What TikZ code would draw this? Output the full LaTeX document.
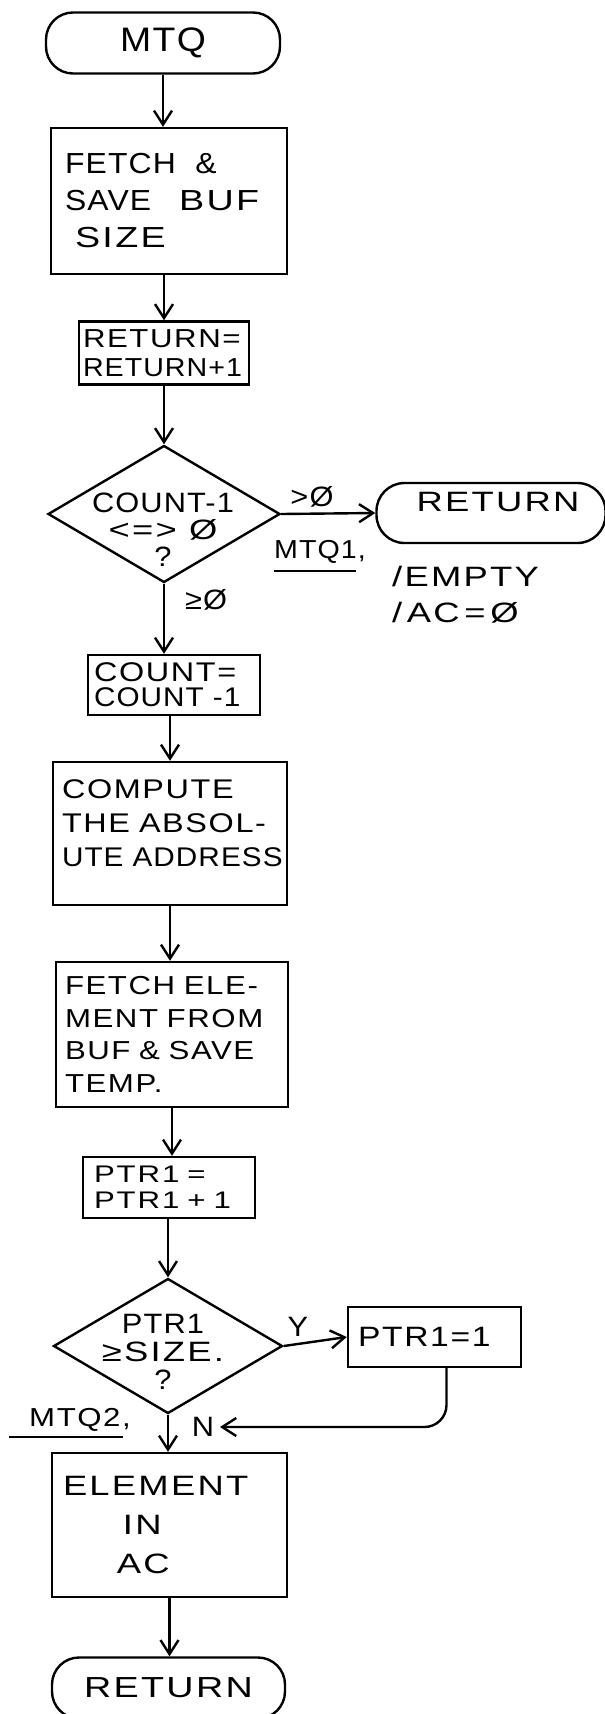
\documentclass[tikz,border=0pt]{standalone}
\usepackage{fontspec}
\setmainfont{Liberation Sans}
% three widths of the same hand-lettering face
\newfontfamily\hand[FakeStretch=1.1,LetterSpace=4]{Liberation Sans}
\newfontfamily\handmid[FakeStretch=1.2,LetterSpace=6]{Liberation Sans}
\newfontfamily\handwide[FakeStretch=1.3,LetterSpace=8]{Liberation Sans}
\usetikzlibrary{shapes.geometric,arrows.meta}
\newcommand\fsz[2]{\fontsize{#1pt}{#2pt}\selectfont}

\tikzset{
  ink/.style={line width=2.4pt},
  flow/.style={ink, -{Straight Barb[length=14pt,width=18pt]}},
  terminal/.style={draw, ink, rounded corners=27pt, inner sep=0pt, minimum height=61pt},
  procbox/.style={draw, ink, inner sep=0pt, align=left},
  decision/.style={draw, ink, diamond, inner sep=0pt},
  lbl/.style={inner sep=0pt, align=left},
  uline/.style={line width=2pt},
}

\begin{document}
\begin{tikzpicture}[x=1pt,y=-1pt]
\path[fill=white, use as bounding box] (0,0) rectangle (605,1714);

% main column
\node[terminal, minimum width=234pt, font=\hand\fsz{34}{40}] (start) at (163,43) {MTQ};

\node[procbox, minimum width=236pt, minimum height=146pt, text width=208pt,
      font=\hand\fsz{29}{37}] (fetch) at (169,201)
      {FETCH\ \ \&\\SAVE\hspace*{28pt}{\handwide BUF}\\\hspace*{10pt}{\handwide SIZE}};

\node[procbox, minimum width=170pt, minimum height=63pt, text width=162pt,
      font=\hand\fsz{26}{29}] (ret1) at (164,353) {{\handmid RETURN=}\\RETURN+1};

\node[decision, minimum width=232pt, minimum height=137pt] (dec1) at (164,514) {};
\node[lbl, align=center, font=\hand\fsz{28}{27}] (dec1t) at (163,530)
      {COUNT-1\\{\handwide <=> Ø}\\?};

\node[procbox, minimum width=172pt, minimum height=60pt, text width=160pt,
      font=\handmid\fsz{27}{25}] (count) at (174,685) {COUNT=\\{\hand COUNT -1}};

\node[procbox, minimum width=234pt, minimum height=143pt, text width=216pt,
      font=\handmid\fsz{27}{34}] (compute) at (170,833.5)
      {COMPUTE\\THE ABSOL-\\\mbox{\hand UTE ADDRESS}\\[-14pt]\mbox{}};

\node[procbox, minimum width=232pt, minimum height=145pt, text width=214pt,
      font=\handmid\fsz{26}{32.5}] (fetch2) at (172,1034.5)
      {FETCH ELE-\\MENT FROM\\BUF \& SAVE\\TEMP.};

\node[procbox, minimum width=172pt, minimum height=61pt, text width=150pt,
      font=\handwide\fsz{24}{26}] (ptr) at (169,1187.5) {PTR1 =\\PTR1 + 1};

\node[decision, minimum width=229pt, minimum height=135pt] (dec2) at (168,1346) {};
\node[lbl, align=center, font=\hand\fsz{28}{28}] (dec2t) at (163,1352)
      {PTR1\\{\handwide ≥SIZE.}\\?};

\node[procbox, minimum width=235pt, minimum height=144pt, text width=213pt,
      font=\handwide\fsz{28}{39}] (element) at (169.5,1525)
      {ELEMENT\\\hspace*{60pt}IN\\\hspace*{54pt}AC};

\node[terminal, minimum width=233pt, font=\handwide\fsz{29}{34}] (ret3) at (168.5,1688) {RETURN};

% side branches
\node[terminal, minimum width=229pt, minimum height=60pt, rounded corners=28pt] (ret2) at (491,513) {};
\node[lbl, font=\handwide\fsz{28}{34}] (ret2t) at (498,502) {RETURN};

\node[procbox, minimum width=173pt, minimum height=60pt, text width=153pt,
      font=\handmid\fsz{28}{34}] (ptr1) at (434.5,1337) {PTR1=1};

% labels
\node[lbl, font=\hand\fsz{28}{34}] (gt0) at (312,497) {>Ø};
\node[lbl, font=\hand\fsz{26}{32}] (mtq1) at (320,552) {MTQ1,};
\draw[uline] ([yshift=-7pt]mtq1.south west) -- ([yshift=-7pt,xshift=-10pt]mtq1.south east);
\node[lbl, anchor=west, font=\handwide\fsz{28}{36}] (emptyc) at (392,595) {/EMPTY\\/\,AC\,=\,Ø};
\node[lbl, font=\hand\fsz{28}{34}] (ge0) at (206,600) {≥Ø};
\node[lbl, font=\hand\fsz{28}{34}] (yes) at (298,1327) {Y};
\node[lbl, font=\hand\fsz{28}{34}] (no) at (203,1427) {N};
\node[lbl, font=\handmid\fsz{26}{32}] (mtq2) at (80,1420) {MTQ2,};
\draw[uline] ([xshift=-20pt,yshift=-5pt]mtq2.south west) -- ([xshift=-8pt,yshift=-5pt]mtq2.south east);

% connectors
\draw[flow] (start.south) -- (start.south |- fetch.north);
\draw[flow] (ret1.north |- fetch.south) -- (ret1.north);
\draw[flow] (ret1.south) -- (dec1.north);
\draw[flow] (dec1.east) -- (ret2.west);
\draw[flow] (dec1.south) -- (dec1.south |- count.north);
\draw[flow] (compute.north |- count.south) -- (compute.north);
\draw[flow] (compute.south) -- (compute.south |- fetch2.north);
\draw[flow] (fetch2.south) -- (fetch2.south |- ptr.north);
\draw[flow] (dec2.north |- ptr.south) -- (dec2.north);
\draw[flow] (dec2.east) -- (ptr1.west);
\coordinate (nret) at (220,1427);
\draw[flow, rounded corners=22pt] ([xshift=12pt]ptr1.south) |- (nret);
\draw[flow] (dec2.south) -- (dec2.south |- element.north);
\draw[flow] (element.south) -- (element.south |- ret3.north);
\end{tikzpicture}
\end{document}
